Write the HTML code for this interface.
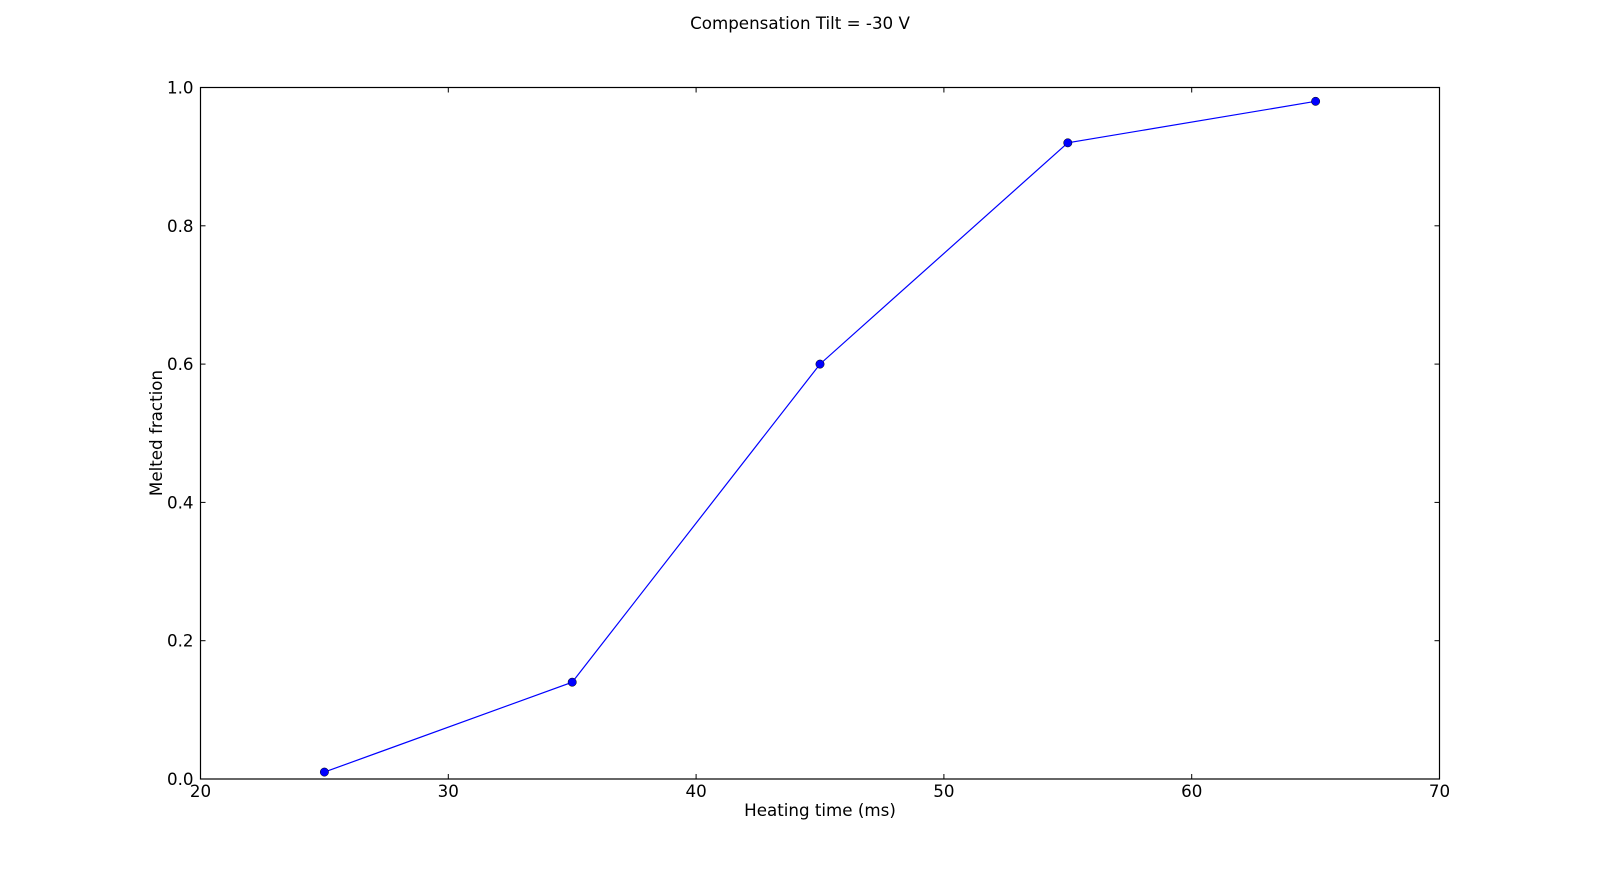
<!DOCTYPE html>
<html><head><meta charset="utf-8"><style>
html,body{margin:0;padding:0;background:#fff;}
svg text{font-family:"DejaVu Sans","Liberation Sans",sans-serif;fill:#000;}
</style></head><body>
<svg id="chart" width="1600" height="865" viewBox="0 0 1600 865" xmlns="http://www.w3.org/2000/svg">
<rect width="1600" height="865" fill="#fff"/>
<text x="800" y="29" font-size="16.7" text-anchor="middle">Compensation Tilt = -30 V</text>
<g id="axes"></g>
<text x="820" y="816" font-size="16.7" text-anchor="middle">Heating time (ms)</text>
<text transform="translate(162,433) rotate(-90)" font-size="16.7" text-anchor="middle">Melted fraction</text>
<g id="series"></g>
<rect x="200.5" y="87.5" width="1239" height="691.5" fill="none" stroke="#000" stroke-width="1.2"/>
</svg>
<script>
const xValues = [25, 35, 45, 55, 65];
const yValues = [0.01, 0.14, 0.6, 0.92, 0.98];
const xTicks = [20, 30, 40, 50, 60, 70];
const yTicks = [0.0, 0.2, 0.4, 0.6, 0.8, 1.0];
const yTickLabels = ["0.0", "0.2", "0.4", "0.6", "0.8", "1.0"];

const L = 200.5, R = 1439.5, T = 87.5, B = 779;
const xMin = 20, xMax = 70, yMin = 0, yMax = 1;
function sx(v){ return L + (v - xMin) / (xMax - xMin) * (R - L); }
function sy(v){ return B - (v - yMin) / (yMax - yMin) * (B - T); }
const NS = "http://www.w3.org/2000/svg";
const axes = document.getElementById('axes');
const series = document.getElementById('series');
function mk(tag, attrs, parent){ const e = document.createElementNS(NS, tag); for (const k in attrs) e.setAttribute(k, attrs[k]); parent.appendChild(e); return e; }

xTicks.forEach(function(t){
  const x = sx(t);
  const a = mk('line', {x1:x, x2:x, y1:B, y2:B-5, stroke:'#000'}, axes);
  
  
  const b = mk('line', {x1:x, x2:x, y1:T, y2:T+5, stroke:'#000'}, axes);
  
  
  const tx = mk('text', {x:x, y:B+18, 'font-size':16.7, 'text-anchor':'middle'}, axes);
  tx.textContent = String(t);
  
  
});
yTicks.forEach(function(t, i){
  const y = sy(t);
  const a = mk('line', {x1:L, x2:L+5, y1:y, y2:y, stroke:'#000'}, axes);
  
  
  const b = mk('line', {x1:R, x2:R-5, y1:y, y2:y, stroke:'#000'}, axes);
  
  
  const tx = mk('text', {x:L-7, y:y+6, 'font-size':16.7, 'text-anchor':'end'}, axes);
  tx.textContent = yTickLabels[i];
  
  
});

const pts = xValues.map(function(x, i){ return sx(x) + ',' + sy(yValues[i]); }).join(' ');
const line = mk('polyline', {points:pts, fill:'none', stroke:'#0000ff', 'stroke-width':1.2}, series);


xValues.forEach(function(x, i){
  const c = mk('circle', {cx:sx(x), cy:sy(yValues[i]), r:4.2, fill:'#0000ff', stroke:'#000', 'stroke-width':0.5}, series);
  
  
});
</script>
</body></html>
